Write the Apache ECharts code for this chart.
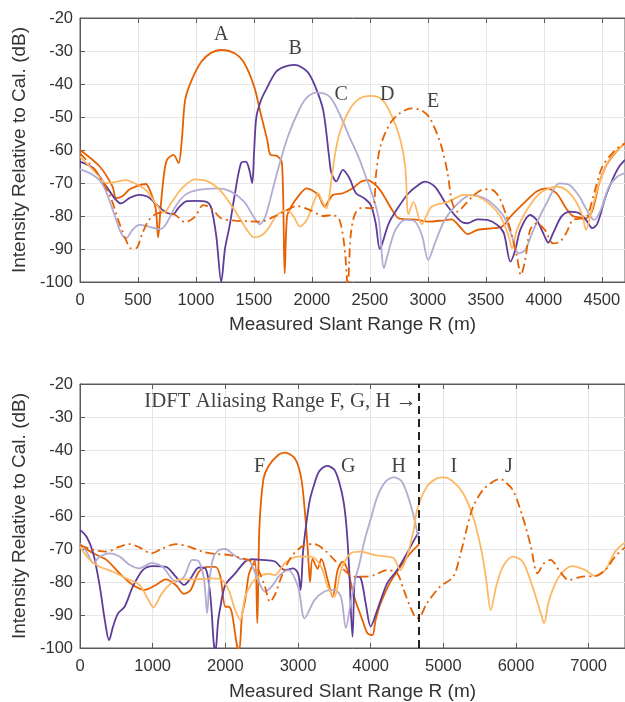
<!DOCTYPE html>
<html><head><meta charset="utf-8">
<script src="https://cdn.jsdelivr.net/npm/echarts@6/dist/echarts.min.js"></script>
<style>html,body{margin:0;padding:0;background:#fff}#c{width:625px;height:702px}</style>
</head><body><div id="c"></div>
<script>
// ---------- Top panel (A-E) ----------
const A = [[0,-60],[170,-65],[280,-71],[312,-74.6],[365,-74],[425,-72],[485,-71],[567,-70.3],[600,-72],[652,-77.6],[674,-86.5],[694,-78],[722,-68],[750,-63],[807,-61.5],[850,-64],[878,-57],[907,-44.8],[963,-38.8],[1048,-33.2],[1133,-30.5],[1218,-29.7],[1332,-30.7],[1417,-33.7],[1502,-40.8],[1558,-48.9],[1615,-57],[1643,-61.5],[1700,-61.8],[1742,-64],[1765,-97.4],[1785,-80.2],[1813,-77.7],[1870,-74.6],[1955,-71.6],[1997,-72.1],[2054,-73.6],[2111,-77.2],[2139,-75.7],[2182,-73.6],[2267,-73.1],[2352,-71.6],[2422,-69.6],[2479,-69.1],[2550,-70.6],[2607,-73.1],[2692,-78.2],[2748,-80.7],[2833,-81],[2900,-81.1],[3003,-81.7],[3117,-81.4],[3202,-81],[3287,-83.7],[3343,-85.5],[3428,-84.2],[3570,-83.7],[3641,-83.2],[3712,-80.2],[3825,-76.2],[3938,-72.6],[4023,-71.6],[4108,-73.1],[4193,-77.7],[4250,-80],[4307,-80.4],[4363,-80.7],[4420,-78.2],[4477,-70.1],[4533,-65],[4590,-62],[4650,-59.5],[4700,-58]];
const B = [[0,-63.5],[113,-65.5],[227,-71.1],[312,-75.2],[354,-76.2],[425,-74.6],[510,-73.6],[581,-74.1],[637,-75.7],[694,-77.7],[751,-79],[800,-79.5],[850,-77.5],[920,-75.5],[992,-75.4],[1091,-75.7],[1133,-77.7],[1176,-86.3],[1218,-100],[1250,-90],[1289,-83.2],[1332,-74.1],[1388,-64],[1431,-63.5],[1460,-66],[1485,-70],[1502,-60],[1521,-50],[1560,-45],[1600,-42],[1691,-36.3],[1760,-34.8],[1850,-34.2],[1962,-36.3],[2029,-40.8],[2097,-47.9],[2148,-62],[2168,-67],[2210,-69.5],[2267,-66],[2323,-68.5],[2380,-73.1],[2451,-74.6],[2508,-76.7],[2550,-82.2],[2585,-90],[2607,-88.3],[2663,-82.2],[2748,-77.2],[2833,-73.1],[2918,-70.6],[2975,-69.6],[3060,-71.1],[3173,-77.2],[3287,-81.7],[3343,-82.2],[3428,-81],[3513,-81.2],[3598,-82.7],[3655,-85.2],[3712,-93.8],[3754,-90.3],[3797,-84.2],[3882,-79.7],[3938,-81.2],[4009,-86.3],[4037,-88.1],[4080,-85.2],[4151,-80.2],[4222,-78.7],[4307,-79.2],[4363,-81.2],[4420,-83.7],[4463,-82.2],[4533,-74.1],[4590,-69.1],[4650,-65],[4700,-63]];
const C = [[0,-65.9],[113,-67.6],[198,-70.6],[283,-78.2],[354,-85.2],[397,-86.8],[453,-84.2],[510,-82.7],[595,-83.2],[680,-84],[737,-82.7],[822,-77.2],[907,-73.6],[1020,-72.1],[1190,-71.6],[1303,-72.6],[1417,-75.7],[1488,-79.7],[1550,-82.5],[1600,-80],[1691,-68],[1792,-56],[1894,-47.5],[1960,-44],[2040,-42.6],[2153,-43.8],[2250,-50],[2323,-56],[2401,-62],[2465,-68.1],[2536,-75.2],[2578,-81.2],[2621,-95.8],[2649,-92.3],[2720,-84.2],[2805,-81.2],[2890,-81.7],[2950,-86],[3003,-93.3],[3060,-88.3],[3145,-81.2],[3258,-76.2],[3372,-73.6],[3485,-74.6],[3570,-76.7],[3655,-80.2],[3726,-86.3],[3782,-91.3],[3839,-90.3],[3910,-84.2],[4023,-76.2],[4137,-70.1],[4222,-70.6],[4307,-74.1],[4363,-77.7],[4434,-81.2],[4491,-78.2],[4562,-71.1],[4633,-68.1],[4700,-67]];
const D = [[0,-62],[142,-67.1],[227,-70.1],[312,-69.6],[397,-69.1],[482,-70.3],[567,-72.1],[652,-76.2],[722,-79],[793,-75.7],[878,-71.6],[992,-68.9],[1105,-69.6],[1218,-72.6],[1332,-78.2],[1445,-84.5],[1502,-86.5],[1560,-86],[1615,-84.2],[1700,-79.7],[1785,-78.2],[1842,-80.2],[1898,-83.2],[1955,-81.2],[2012,-76.2],[2054,-73.1],[2083,-75.2],[2125,-77.7],[2168,-69.1],[2196,-62],[2238,-55],[2323,-47.9],[2408,-44.5],[2508,-43.6],[2607,-44.8],[2692,-49.9],[2763,-57],[2805,-65],[2833,-79.5],[2876,-75.7],[2947,-82.5],[3032,-77.2],[3173,-75.7],[3315,-73.6],[3428,-74.1],[3542,-76.7],[3627,-80.2],[3698,-86.3],[3726,-89.8],[3768,-84.2],[3853,-78.2],[3967,-73.1],[4108,-71.1],[4193,-72.1],[4278,-75.7],[4335,-80.2],[4363,-84.2],[4406,-79.2],[4477,-70.1],[4548,-64],[4619,-60.5],[4700,-58]];
const E = [[0,-61],[142,-66.6],[255,-73.6],[340,-82.2],[397,-87.3],[439,-89.8],[482,-89.8],[538,-85.2],[595,-81.2],[666,-79.2],[737,-79],[822,-79.7],[907,-81.9],[992,-80.2],[1063,-76.7],[1133,-77.7],[1218,-80.7],[1332,-81.4],[1445,-81.6],[1558,-81.7],[1672,-80.2],[1785,-78.2],[1870,-77],[1983,-78.2],[2097,-80],[2182,-79.7],[2238,-81.2],[2281,-89.3],[2309,-101],[2334,-86],[2370,-79.5],[2430,-77.5],[2520,-77.7],[2554,-67],[2590,-59],[2673,-52],[2760,-48.8],[2860,-47.4],[2947,-48],[3020,-50.5],[3113,-58.5],[3170,-67],[3210,-76],[3258,-78.7],[3315,-76.7],[3400,-73.6],[3485,-71.9],[3556,-72.1],[3627,-75.2],[3712,-84.2],[3768,-92.3],[3802,-97.9],[3839,-93.3],[3882,-84.2],[3938,-82.2],[4009,-84.2],[4080,-88.3],[4137,-87.8],[4193,-85.2],[4250,-81.2],[4335,-80.7],[4378,-79.7],[4434,-73.1],[4505,-65],[4590,-61],[4650,-59],[4700,-58]];
const topXTicks = {min:0, max:4700, step:500};
const topLabelNames = ['A','B','C','D','E'];
const topLabelX = [1218,1856,2253,2649,3046];
const topLabelY = [-25.2,-29.2,-43.3,-43.3,-45.4];

// ---------- Bottom panel (F-J) ----------
const F = [[0,-68.8],[182,-71.3],[364,-73.3],[545,-77.4],[727,-80.9],[886,-82.4],[1045,-80.9],[1182,-79.2],[1318,-80.9],[1432,-83.6],[1523,-82.4],[1636,-76.9],[1750,-75.4],[1864,-75.4],[1932,-78.4],[2000,-87.5],[2045,-87.5],[2091,-89.5],[2159,-99.1],[2190,-101],[2230,-90],[2273,-85.5],[2320,-78],[2364,-75.4],[2409,-73.5],[2440,-92.5],[2468,-64],[2523,-49],[2591,-45],[2727,-41.5],[2818,-40.8],[2955,-42.5],[3040,-48],[3092,-58],[3140,-72],[3165,-80],[3200,-73],[3270,-76],[3320,-73],[3409,-79.4],[3477,-84.5],[3545,-76.4],[3614,-73.8],[3682,-76.4],[3773,-84.5],[3886,-91.5],[3955,-95.5],[4023,-96.1],[4068,-91.5],[4136,-86.5],[4273,-79.9],[4409,-75.4],[4545,-71.3],[4668,-68.5]];
const G = [[0,-64.2],[91,-66.3],[182,-71.3],[273,-81.4],[341,-91.5],[400,-97.6],[455,-93.5],[523,-89.5],[614,-87.5],[727,-81.4],[864,-76.4],[1000,-75.2],[1182,-75.4],[1318,-78.4],[1432,-80.9],[1523,-78.9],[1636,-75.6],[1727,-75.9],[1795,-84.5],[1841,-98.6],[1864,-101],[1900,-92],[1932,-87.5],[2000,-80.9],[2136,-77.4],[2273,-73.8],[2364,-73.1],[2500,-73.3],[2682,-73.8],[2818,-76.4],[2932,-75.9],[3000,-77.4],[3036,-82.4],[3068,-71.3],[3110,-63],[3160,-55.5],[3215,-51],[3290,-46.5],[3400,-44.8],[3500,-46],[3570,-50],[3630,-56],[3670,-64],[3705,-76.4],[3750,-96.6],[3795,-78.4],[3864,-78.9],[3932,-86.5],[4000,-93.5],[4091,-88.5],[4227,-80.4],[4364,-76.4],[4500,-71.3],[4636,-65.8],[4668,-65]];
const H = [[0,-68.3],[91,-70.8],[182,-74.3],[273,-72.3],[409,-71.3],[545,-72.3],[682,-74.8],[818,-75.9],[977,-74.3],[1136,-75.4],[1318,-79.9],[1432,-78.4],[1545,-73.3],[1636,-73.8],[1705,-78.9],[1750,-89.5],[1780,-80],[1830,-73],[1900,-70.5],[2000,-70],[2100,-71.5],[2200,-73],[2318,-73.3],[2432,-78.4],[2545,-82.9],[2636,-81.4],[2750,-77.9],[2864,-76.4],[3000,-81.4],[3091,-91],[3227,-85.5],[3364,-82.9],[3500,-82.4],[3591,-84.5],[3659,-94],[3720,-87],[3780,-80],[3850,-74],[3920,-67],[4000,-61],[4091,-54.2],[4205,-49.6],[4318,-48.3],[4432,-49.6],[4545,-56.2],[4614,-62.2],[4668,-68]];
const I = [[0,-69.3],[136,-73.3],[273,-75.4],[455,-76.9],[636,-78.9],[818,-80.9],[955,-86],[1009,-87.7],[1114,-83.9],[1227,-80.9],[1364,-79.2],[1591,-79.2],[1818,-78.9],[1955,-79.4],[2045,-82.4],[2136,-88.5],[2205,-91.5],[2273,-84.5],[2364,-80.4],[2455,-78.4],[2590,-77.5],[2682,-77.9],[2818,-74.3],[3000,-72.3],[3182,-72.3],[3318,-75.4],[3409,-81.4],[3500,-84.5],[3591,-76.4],[3727,-71.3],[3864,-70.8],[4045,-71.8],[4227,-72.3],[4318,-72.8],[4409,-76.4],[4500,-72.3],[4591,-64.2],[4640,-58],[4773,-51.1],[4909,-48.6],[5000,-48.3],[5136,-49.6],[5273,-53.1],[5409,-60.2],[5523,-70.3],[5591,-79.4],[5652,-88.5],[5727,-81.4],[5818,-75.4],[5955,-72.3],[6091,-73.8],[6227,-81.4],[6341,-89.5],[6386,-92.5],[6455,-85.5],[6591,-78.4],[6773,-75.2],[6955,-76.4],[7091,-78.2],[7227,-76.4],[7364,-70.8],[7500,-68]];
const J = [[0,-68.8],[182,-70.3],[364,-70.8],[545,-69.3],[682,-68.5],[818,-69.5],[977,-71.3],[1136,-69.8],[1318,-68.5],[1500,-69.3],[1682,-70.8],[1864,-71.5],[2045,-71.8],[2227,-72.8],[2364,-73.8],[2455,-76.4],[2545,-81.4],[2614,-86],[2682,-83.9],[2773,-78.4],[2909,-72.3],[3091,-68.8],[3227,-68.5],[3364,-70.3],[3500,-73.3],[3636,-76.4],[3773,-78.4],[3909,-78.4],[4045,-77.9],[4227,-76.4],[4364,-77.4],[4455,-82.4],[4545,-87.5],[4636,-91],[4682,-90.5],[4773,-86.5],[4955,-81.4],[5136,-78.4],[5227,-72.3],[5318,-64.2],[5409,-57.2],[5545,-52.1],[5682,-49.6],[5773,-48.8],[5818,-49.1],[5955,-52.1],[6091,-60.2],[6205,-69.3],[6295,-77.4],[6386,-74.3],[6477,-73.3],[6591,-76.4],[6727,-79.4],[6909,-78.4],[7091,-78.2],[7227,-76.4],[7364,-72.3],[7500,-69.5]];
const botXTicks = {min:0, max:7500, step:1000};
const botLabelNames = ['F','G','H','I','J'];
const botLabelX = [2470,3690,4385,5146,5901];
const botLabelY = [-45,-45,-45,-45,-45];
const aliasX = 4668;
const aliasText = 'IDFT Aliasing Range F, G, H \u2192';
const aliasTextPos = [4630,-25.4];

const yTicks = {min:-100, max:-20, step:10};
const xTitle = 'Measured Slant Range R (m)';
const yTitle = 'Intensity Relative to Cal. (dB)';

// ---------- styling ----------
const ORANGE = '#e66101', LORANGE = '#fdb863', LPURPLE = '#b2abd2', PURPLE = '#5e3c99';
const AX = '#5a5a5a', TXT = '#333', GRID = '#e6e6e6';
const SANS = 'Liberation Sans', SERIF = 'Liberation Serif';

function xAx(gi, t, pos, nameGap) {
  const bottom = pos === 'bottom';
  return {
    type:'value', gridIndex:gi, position:pos, min:t.min, max:t.max, interval:t.step,
    name: bottom ? xTitle : '', nameLocation:'middle', nameGap:nameGap,
    nameTextStyle:{fontFamily:SANS, fontSize:19, color:TXT},
    axisLine:{show:true, onZero:false, lineStyle:{color:AX, width:1}},
    axisTick:{show:true, inside:true, length:5, lineStyle:{color:AX}},
    axisLabel:{show:bottom, margin:10, fontFamily:SANS, fontSize:16.5, color:TXT,
      showMaxLabel:false, formatter:v => (v % t.step === 0 ? String(v) : '')},
    splitLine:{show:bottom, lineStyle:{color:GRID, width:1}}
  };
}
function yAx(gi) {
  return {
    type:'value', gridIndex:gi, min:yTicks.min, max:yTicks.max, interval:yTicks.step,
    name:yTitle, nameLocation:'middle', nameGap:45, nameRotate:90,
    nameTextStyle:{fontFamily:SANS, fontSize:19, color:TXT},
    axisLine:{show:true, lineStyle:{color:AX, width:1}},
    axisTick:{show:true, inside:true, length:5, lineStyle:{color:AX}},
    axisLabel:{margin:7, fontFamily:SANS, fontSize:16.5, color:TXT},
    splitLine:{show:true, lineStyle:{color:GRID, width:1}}
  };
}
function ln(data, color, dashdot, gi, extra) {
  return Object.assign({
    type:'line', xAxisIndex:gi*2, yAxisIndex:gi, data:data, symbol:'none', showSymbol:false,
    smooth:0.3, clip:true, silent:true, z:2,
    lineStyle:{color:color, width:1.8, type: dashdot ? [9,4,2,4] : 'solid'}
  }, extra || {});
}
function labels(gi, names, xs, ys) {
  return {
    type:'scatter', xAxisIndex:gi*2, yAxisIndex:gi, symbolSize:0, silent:true, z:5,
    data: names.map((n,i) => ({name:n, value:[xs[i], ys[i]]})),
    label:{show:true, position:'inside', formatter:p => p.name,
      fontFamily:SERIF, fontSize:20, color:'#111'}
  };
}

const option = {
  animation:false,
  backgroundColor:'#fff',
  grid:[
    {left:80, top:18, width:553, height:264, show:true, borderColor:AX, borderWidth:1},
    {left:80, top:384, width:550, height:264, show:true, borderColor:AX, borderWidth:1}
  ],
  xAxis:[xAx(0, topXTicks, 'bottom', 33), xAx(0, topXTicks, 'top', 0),
         xAx(1, botXTicks, 'bottom', 34), xAx(1, botXTicks, 'top', 0)],
  yAxis:[yAx(0), yAx(1)],
  series:[
    ln(A, ORANGE, false, 0), ln(B, PURPLE, false, 0), ln(C, LPURPLE, false, 0),
    ln(D, LORANGE, false, 0), ln(E, ORANGE, true, 0),
    ln(F, ORANGE, false, 1), ln(G, PURPLE, false, 1), ln(H, LPURPLE, false, 1),
    ln(I, LORANGE, false, 1),
    ln(J, ORANGE, true, 1, {markLine:{symbol:'none', silent:true, animation:false,
      label:{show:false}, lineStyle:{color:'#222', width:2, type:[8,5]},
      data:[{xAxis:aliasX}]}}),
    labels(0, topLabelNames, topLabelX, topLabelY),
    labels(1, botLabelNames, botLabelX, botLabelY),
    {type:'scatter', xAxisIndex:2, yAxisIndex:1, symbolSize:0, silent:true, z:5,
     data:[{name:aliasText, value:aliasTextPos}],
     label:{show:true, position:'inside', align:'right', formatter:p => p.name,
       fontFamily:SERIF, fontSize:20.8, color:'#111'}}
  ]
};
const chart = echarts.init(document.getElementById('c'), null, {renderer:'canvas'});
chart.setOption(option);
</script>
</body></html>
